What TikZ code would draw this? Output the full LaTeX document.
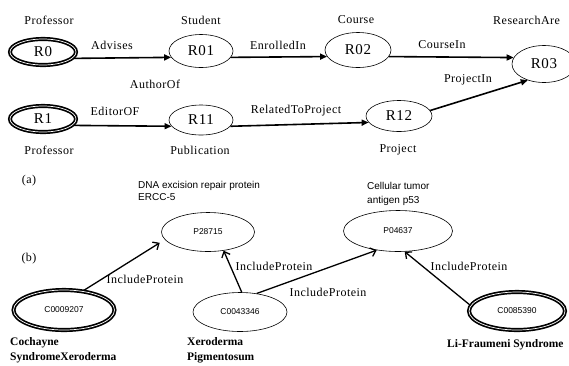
\documentclass[tikz,border=0pt]{standalone}
\usepackage{fontspec}
\setmainfont{Liberation Serif}
\setsansfont{Liberation Sans}
\newfontfamily\spacedrm[LetterSpace=4]{Liberation Serif}
\usetikzlibrary{shapes.geometric,arrows.meta}
\tikzset{
	relnode/.style={draw, ellipse, line width=0.6pt, inner sep=0pt, font=\spacedrm\fontsize{15}{17}\selectfont},
	rootnode/.style={relnode, line width=1.7pt, double, double distance=0.7pt},
	cuinode/.style={draw, ellipse, line width=0.6pt, inner sep=0pt, font=\sffamily\fontsize{8.5}{10}\selectfont},
	cuiroot/.style={cuinode, line width=1.7pt, double, double distance=0.7pt},
	lbl/.style={inner sep=0pt, font=\spacedrm\fontsize{12}{14}\selectfont},
	protlbl/.style={inner sep=0pt, anchor=west, align=left},
	dislbl/.style={inner sep=0pt, anchor=west, align=left, font=\bfseries\fontsize{11.5}{15}\selectfont},
	relarrow/.style={line width=1.6pt, -{Triangle[length=7pt,width=6pt]}},
	incarrow/.style={line width=1.3pt, -{Straight Barb[length=5pt,width=9pt]}},
}
\begin{document}
\begin{tikzpicture}[x=1pt,y=-1pt]
	\useasboundingbox[fill=white] (0,0) rectangle (569,365);
	% (a)
	\node[rootnode, minimum width=66pt, minimum height=26pt] (R0) at (43,52) {R0};
	\node[relnode, minimum width=64pt, minimum height=33pt] (R01) at (201,51) {R01};
	\node[relnode, minimum width=66pt, minimum height=35pt] (R02) at (358,50) {R02};
	\node[relnode, minimum width=64pt, minimum height=37pt] (R03) at (544,64) {R03};
	\node[rootnode, minimum width=66pt, minimum height=26pt] (R1) at (43,119) {R1};
	\node[relnode, minimum width=64pt, minimum height=30pt] (R11) at (201,120) {R11};
	\node[relnode, minimum width=66pt, minimum height=31pt] (R12) at (399,116) {R12};
	%
	\node[lbl] (tR0) at (49,20) {Professor};
	\node[lbl] (tR01) at (201,20) {Student};
	\node[lbl] (tR02) at (356,20) {Course};
	\node[lbl, anchor=west] (tR03) at (493,20) {ResearchAre};
	\node[lbl] (tR1) at (49,150) {Professor};
	\node[lbl] (tR11) at (200,150) {Publication};
	\node[lbl] (tR11b) at (155,84) {AuthorOf};
	\node[lbl] (tR12) at (398,150) {Project};
	\node[lbl] (ta) at (29,181) {(a)};
	%
	\draw[relarrow] (R0.-12) to (R01.192);
	\draw[relarrow] (R01.-12) to (R02.192);
	\draw[relarrow] (R02.-12) to (R03.168);
	\draw[relarrow] (R1.-12) to (R11.192);
	\draw[relarrow] (R11.-12) to (R12.192);
	\draw[relarrow] (R12.10) to (R03.225);
	%
	\node[lbl] (eAdvises) at (112,45) {Advises};
	\node[lbl] (eEnrolled) at (278,45) {EnrolledIn};
	\node[lbl] (eCourse) at (442,45) {CourseIn};
	\node[lbl] (eEditor) at (115,111) {EditorOF};
	\node[lbl] (eRelated) at (296,111) {RelatedToProject};
	\node[lbl] (eProject) at (468,80) {ProjectIn};
	% (b)
	\node[cuiroot, minimum width=101pt, minimum height=40pt] (C0009207) at (64,310) {C0009207};
	\node[cuinode, minimum width=93pt, minimum height=39pt] (P28715) at (208,232) {P28715};
	\node[cuinode, minimum width=94pt, minimum height=39pt] (C0043346) at (240,312) {C0043346};
	\node[cuinode, minimum width=109pt, minimum height=41pt] (P04637) at (398,231) {P04637};
	\node[cuiroot, minimum width=96pt, minimum height=38pt] (C0085390) at (517,311) {C0085390};
	%
	\node[protlbl, font=\sffamily\fontsize{10}{12}\selectfont] (tP28715) at (138,191) {DNA excision repair protein\\ERCC-5};
	\node[protlbl, font=\sffamily\fontsize{10}{14}\selectfont] (tP04637) at (367,194) {Cellular tumor\\antigen p53};
	\node[dislbl] (tC0009207) at (10,350) {Cochayne\\SyndromeXeroderma};
	\node[dislbl] (tC0043346) at (187,350) {Xeroderma\\Pigmentosum};
	\node[dislbl] (tC0085390) at (447,345) {Li-Fraumeni Syndrome};
	\node[lbl] (tb) at (29,259) {(b)};
	%
	\draw[incarrow, shorten >=6pt] (C0009207.45) to (P28715.190);
	\draw[incarrow] (C0043346.85) to (P28715.-50);
	\draw[incarrow] (C0043346.48) to (P04637.222);
	\draw[incarrow] (C0085390.173) to (P04637.-72);
	%
	\node[lbl] (e1) at (145,279) {IncludeProtein};
	\node[lbl] (e2) at (274,266) {IncludeProtein};
	\node[lbl] (e3) at (328,292) {IncludeProtein};
	\node[lbl] (e4) at (469,266) {IncludeProtein};
\end{tikzpicture}
\end{document}
